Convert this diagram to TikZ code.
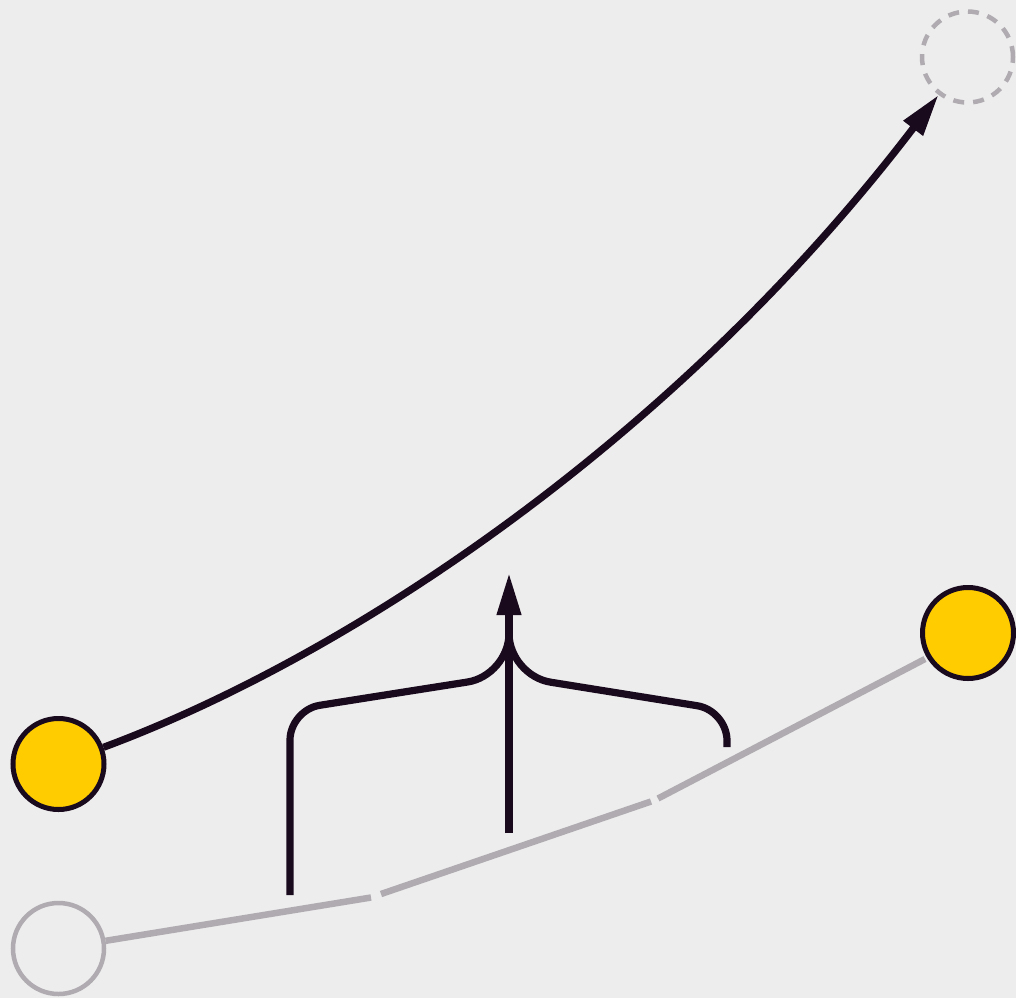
\documentclass[tikz,border=0pt]{standalone}
\usetikzlibrary{arrows.meta}
\definecolor{bg}{HTML}{EDEDED}
\definecolor{ink}{HTML}{1A0A1E}
\definecolor{sun}{HTML}{FFCC00}
\definecolor{ash}{HTML}{AFABB0}
\begin{document}
\begin{tikzpicture}[x=1pt,y=-1pt,
  ball/.style={circle, minimum size=91pt, inner sep=0pt, line width=5pt, draw=ink, fill=sun},
  ghost/.style={circle, minimum size=91pt, inner sep=0pt, line width=4.5pt, draw=ash, fill=bg},
  ghostdash/.style={ghost, dash pattern=on 11pt off 9pt},
  link/.style={draw=ink, line width=7.2pt},
  grayline/.style={draw=ash, line width=6.5pt},
  tip/.style={-{Triangle[length=42pt,width=23pt]}}
]
\fill[bg] (0,0) rectangle (1016,998);
\useasboundingbox (0,0) rectangle (1016,998);

% gray path
\coordinate (g1) at (371,897.5);
\coordinate (g2) at (381,894);
\coordinate (g3) at (651,801.5);
\coordinate (g4) at (658,798.5);

\node[ghost] (G) at (58.5,948.5) {};
\node[ball] (L) at (58.5,764) {};
\node[ghostdash] (D) at (967.5,57) {};

\draw[grayline] (G) -- (g1);
\draw[grayline] (g2) -- (g3);
\draw[grayline] (g4) -- (925,659);

\node[ball] (R) at (968,633) {};

% main curve
\draw[link, tip] (L) .. controls (360,652) and (683,430) .. (D);

% bracket
\coordinate (lb) at (290,895);
\coordinate (rb) at (727,747);
\coordinate (cb) at (509,833);
\coordinate (ct) at (509,573);
\draw[link] [rounded corners=30pt] (lb) -- (290,710) -- (400,692.6) [rounded corners=42pt] -- (509,675.5) -- (509,625);
\draw[link] [rounded corners=30pt] (rb) -- (727,710.5) -- (618,693) [rounded corners=42pt] -- (509,675.5) -- (509,625);
\draw[link, tip] (cb) -- (ct);
\end{tikzpicture}
\end{document}
